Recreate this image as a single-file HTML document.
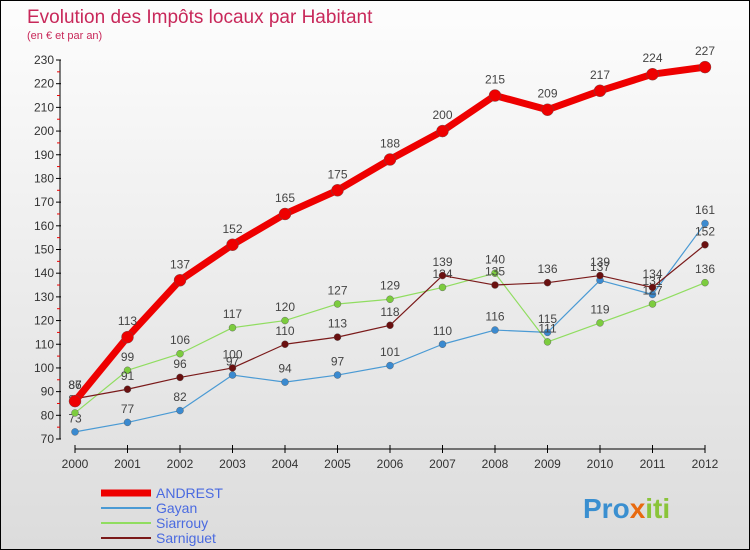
<!DOCTYPE html>
<html><head><meta charset="utf-8"><style>
body{margin:0}
#wrap{width:748px;height:548px;border:1px solid #000;background:linear-gradient(#fdfdfd,#dcdcdc);position:relative;overflow:hidden;font-family:"Liberation Sans",sans-serif}
</style></head><body>
<div id="wrap">
<svg id="chart" width="748" height="548">
<text x="26" y="22" font-size="19" fill="#c8285a">Evolution des Impôts locaux par Habitant</text>
<text x="26" y="38" font-size="11" fill="#c8285a">(en € et par an)</text>
<g id="axes"></g><g id="series"></g><g id="legend"></g>
<text x="582" y="517" font-size="28" font-weight="bold" fill="#3a8fd0">Pro<tspan fill="#e86a10">x</tspan><tspan fill="#8ac43a">iti</tspan></text>
</svg></div>
<script>
const years=[2000,2001,2002,2003,2004,2005,2006,2007,2008,2009,2010,2011,2012];
const yTicks=[70,80,90,100,110,120,130,140,150,160,170,180,190,200,210,220,230];
const andrest=[86,113,137,152,165,175,188,200,215,209,217,224,227];
const gayan=[73,77,82,97,94,97,101,110,116,115,137,131,161];
const siarrouy=[81,99,106,117,120,127,129,134,140,111,119,127,136];
const sarniguet=[87,91,96,100,110,113,118,139,135,136,139,134,152];
const NS='http://www.w3.org/2000/svg';
const xs=i=>74+i*52.5;
const ys=v=>438-(v-70)*(379/160);
function mk(tag,attrs,parent){const e=document.createElementNS(NS,tag);for(const k in attrs)e.setAttribute(k,attrs[k]);parent.appendChild(e);return e;}
const ax=document.getElementById('axes');
let e=mk('line',{x1:59,y1:ys(230),x2:59,y2:ys(70),stroke:'#000'},ax);


e=mk('line',{x1:xs(0),y1:448,x2:xs(12),y2:448,stroke:'#000'},ax);


yTicks.forEach(v=>{
 mk('line',{x1:55,y1:ys(v),x2:60,y2:ys(v),stroke:'#000'},ax);
 if(v<230)mk('line',{x1:56,y1:ys(v+5),x2:59,y2:ys(v+5),stroke:'#e00'},ax);
 const t=mk('text',{x:53,y:ys(v)+4,'font-size':12,fill:'#333','text-anchor':'end'},ax);
 t.textContent=v;
 
 
});
years.forEach((y,i)=>{
 mk('line',{x1:xs(i),y1:444,x2:xs(i),y2:452,stroke:'#000'},ax);
 const t=mk('text',{x:xs(i),y:467,'font-size':12,fill:'#333','text-anchor':'middle'},ax);
 t.textContent=y;
 
 
});
const sg=document.getElementById('series');
function draw(name,data,color,w,r,dot){
 const g=mk('g',{},sg);
 
 
 mk('polyline',{points:data.map((v,i)=>xs(i)+','+ys(v)).join(' '),fill:'none',stroke:color,'stroke-width':w,'stroke-linejoin':'round'},g);
 data.forEach((v,i)=>{
  const c=mk('circle',{cx:xs(i),cy:ys(v),r:r,fill:dot,stroke:'#555','stroke-width':0.4},g);
  
  
  const t=mk('text',{x:xs(i),y:ys(v)-r-6,'font-size':12,fill:'#444','text-anchor':'middle'},g);
  t.textContent=v;
  
  
 });
}
draw('gayan',gayan,'#4a9ad4',1.2,3.5,'#3a8ad0');
draw('siarrouy',siarrouy,'#90dd60',1.2,3.5,'#7ccc3e');
draw('sarniguet',sarniguet,'#7a1a1a',1.2,3.5,'#6a1010');
draw('andrest',andrest,'#ee0000',7,6,'#ee0000');
const lg=document.getElementById('legend');
[['ANDREST','#ee0000',7],['Gayan','#4a9ad4',2],['Siarrouy','#90dd60',2],['Sarniguet','#7a1a1a',2]].forEach((s,i)=>{
 const y=492+i*15;
 const l=mk('line',{x1:100,y1:y,x2:150,y2:y,stroke:s[1],'stroke-width':s[2]},lg);
 
 
 const t=mk('text',{x:155,y:y+5,'font-size':14,fill:'#4a6ae0'},lg);
 t.textContent=s[0];
 
 
});
</script>
</body></html>
